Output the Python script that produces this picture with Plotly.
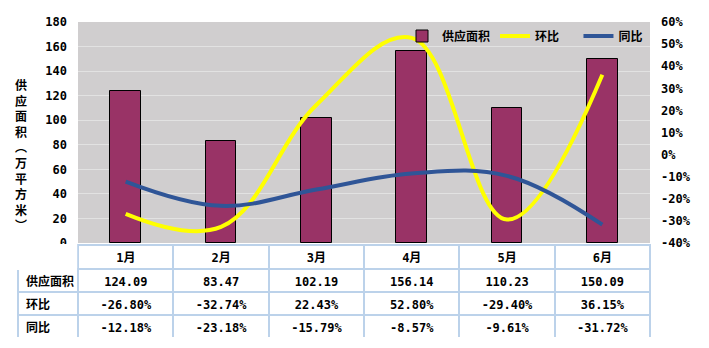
import plotly.graph_objects as go

months = ['1月', '2月', '3月', '4月', '5月', '6月']
supply = [124.09, 83.47, 102.19, 156.14, 110.23, 150.09]
huanbi = [-26.80, -32.74, 22.43, 52.80, -29.40, 36.15]
tongbi = [-12.18, -23.18, -15.79, -8.57, -9.61, -31.72]
row_labels = ['供应面积', '环比', '同比']
left_ticks = list(range(0, 181, 20))
right_ticks = list(range(-40, 61, 10))
right_labels = [f"{v}%" for v in right_ticks]

FONT = "DejaVu Sans Mono, Noto Sans CJK SC"
BG = '#D0CECF'
BORDER = '#BCD2EA'

W, H = 709, 348
ML, MR, MT, MB = 18, 59, 22, 7
pw = W - ML - MR
ph = H - MT - MB
def px_x(x):
    return (x - ML) / pw
def px_y(y):
    return min(1, max(0, 1 - (y - MT) / ph))

fig = go.Figure()
fig.add_trace(go.Bar(x=months, y=supply, name='供应面积', marker=dict(color='#993366', line=dict(color='black', width=1)),
                     width=0.32, xaxis='x', yaxis='y'))
fig.add_trace(go.Scatter(x=months, y=huanbi, name='环比&nbsp;&nbsp;', mode='lines', line=dict(color='#FFFF00', width=4, shape='spline', smoothing=1.1),
                         xaxis='x', yaxis='y2'))
fig.add_trace(go.Scatter(x=months, y=tongbi, name='同比', mode='lines', line=dict(color='#2F5597', width=4, shape='spline', smoothing=1.1),
                         xaxis='x', yaxis='y2'))

fmt_s = [f"{v:.2f}" for v in supply]
fmt_h = [f"{v:.2f}%" for v in huanbi]
fmt_t = [f"{v:.2f}%" for v in tongbi]
cols = [row_labels] + [[fmt_s[i], fmt_h[i], fmt_t[i]] for i in range(len(months))]
fig.add_trace(go.Table(
    domain=dict(x=[0, 1], y=[px_y(338), px_y(245)]),
    columnwidth=[60] + [95] * len(months),
    header=dict(values=[''] + months, fill_color='white', height=24,
                line=dict(color=['white'] + [BORDER] * len(months), width=2),
                align='center', font=dict(family=FONT, size=12, color='black', weight='bold')),
    cells=dict(values=cols, fill_color='white', height=23,
               line=dict(color=BORDER, width=2),
               align=['left'] + ['center'] * len(months),
               font=dict(family=FONT, size=12, color='black', weight='bold')),
))

xd0 = px_x(78)
xd1 = px_x(650)
yd0 = px_y(243)
fig.update_layout(
    width=W, height=H,
    margin=dict(l=ML, r=MR, t=MT, b=MB, autoexpand=False),
    paper_bgcolor='white', plot_bgcolor=BG,
    font=dict(family=FONT, size=12, color='black', weight='bold'),
    bargap=0,
    xaxis=dict(domain=[xd0, xd1], showticklabels=False, showgrid=False, zeroline=False, ticks='', automargin=False),
    yaxis=dict(domain=[yd0, 1], range=[0, 180], tickvals=left_ticks, showgrid=True, gridcolor='#E2E2E2', gridwidth=1,
               zeroline=False, ticks='', ticklabelstandoff=10, automargin=False,
               tickfont=dict(family=FONT, size=12, weight='bold')),
    yaxis2=dict(domain=[yd0, 1], range=[-40, 60], tickvals=right_ticks, ticktext=right_labels, overlaying='y', side='right',
                anchor='x', showgrid=False, zeroline=False, ticks='', ticklabelstandoff=10, automargin=False,
                tickfont=dict(family=FONT, size=12, weight='bold')),
    legend=dict(orientation='h', x=px_x(402), y=px_y(36), xanchor='left', yanchor='middle', bgcolor='rgba(0,0,0,0)',
                font=dict(family=FONT, size=12, weight='bold'), itemwidth=30, traceorder='normal'),
    showlegend=True,
)
fig.add_annotation(text='<br>'.join(list('供应面积︵万平方米︶')), xref='paper', yref='paper', x=px_x(21), y=px_y(155),
                   xanchor='center', yanchor='middle', showarrow=False, font=dict(family=FONT, size=12, weight='bold'))

fig.write_html("out.html")
